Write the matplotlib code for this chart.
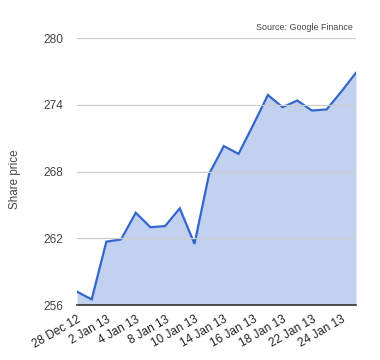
import matplotlib
matplotlib.use("Agg")
import matplotlib.pyplot as plt

# daily closing share price
dates = [
    "28 Dec 12", "31 Dec 12", "2 Jan 13", "3 Jan 13", "4 Jan 13",
    "7 Jan 13", "8 Jan 13", "9 Jan 13", "10 Jan 13", "11 Jan 13",
    "14 Jan 13", "15 Jan 13", "16 Jan 13", "17 Jan 13", "18 Jan 13",
    "21 Jan 13", "22 Jan 13", "23 Jan 13", "24 Jan 13", "25 Jan 13",
]
prices = [
    257.2, 256.5, 261.7, 261.9, 264.3,
    263.0, 263.1, 264.7, 261.5, 267.8,
    270.3, 269.6, 272.2, 274.9, 273.8,
    274.4, 273.5, 273.6, 275.2, 276.9,
]
tick_labels = [
    "28 Dec 12", "2 Jan 13", "4 Jan 13", "8 Jan 13", "10 Jan 13",
    "14 Jan 13", "16 Jan 13", "18 Jan 13", "22 Jan 13", "24 Jan 13",
]
y_ticks = [256, 262, 268, 274, 280]

plt.rcParams["font.family"] = ["Liberation Sans", "DejaVu Sans"]

fig = plt.figure(figsize=(3.8, 3.6), dpi=100)
ax = fig.add_axes([77 / 380, 1 - 305 / 360, 279 / 380, 266.7 / 360])

x = list(range(len(prices)))
ax.fill_between(x, y_ticks[0], prices, color="#c2d1f0", linewidth=0)
ax.plot(x, prices, color="#3366cc", linewidth=1.6, solid_joinstyle="miter")

ax.set_xlim(0, len(prices) - 1)
ax.set_ylim(y_ticks[0], y_ticks[-1])
ax.set_yticks(y_ticks)
ax.set_xticks(x[::2])
ax.set_xticklabels(tick_labels, rotation=30, ha="right", rotation_mode="anchor",
                   fontsize=8.5, color="#222222")
ax.tick_params(axis="x", length=0, pad=6)
ax.tick_params(axis="y", length=0, pad=10, labelsize=8.6, labelcolor="#444444")

ax.grid(axis="y", color="#cccccc", linewidth=0.9)
ax.set_axisbelow(False)
for side in ["top", "right", "left"]:
    ax.spines[side].set_visible(False)
ax.spines["bottom"].set_color("#333333")
ax.spines["bottom"].set_linewidth(1.2)
ax.spines["bottom"].set_zorder(5)

ax.set_ylabel("Share price", fontsize=8.4, color="#444444")
ax.yaxis.set_label_coords(-(77 - 21) / 279, 0.472)
fig.text(353 / 380, 1 - 28 / 360, "Source: Google Finance", ha="right", va="center",
         fontsize=6.4, color="#444444")

fig.savefig("out.png", dpi=100)
